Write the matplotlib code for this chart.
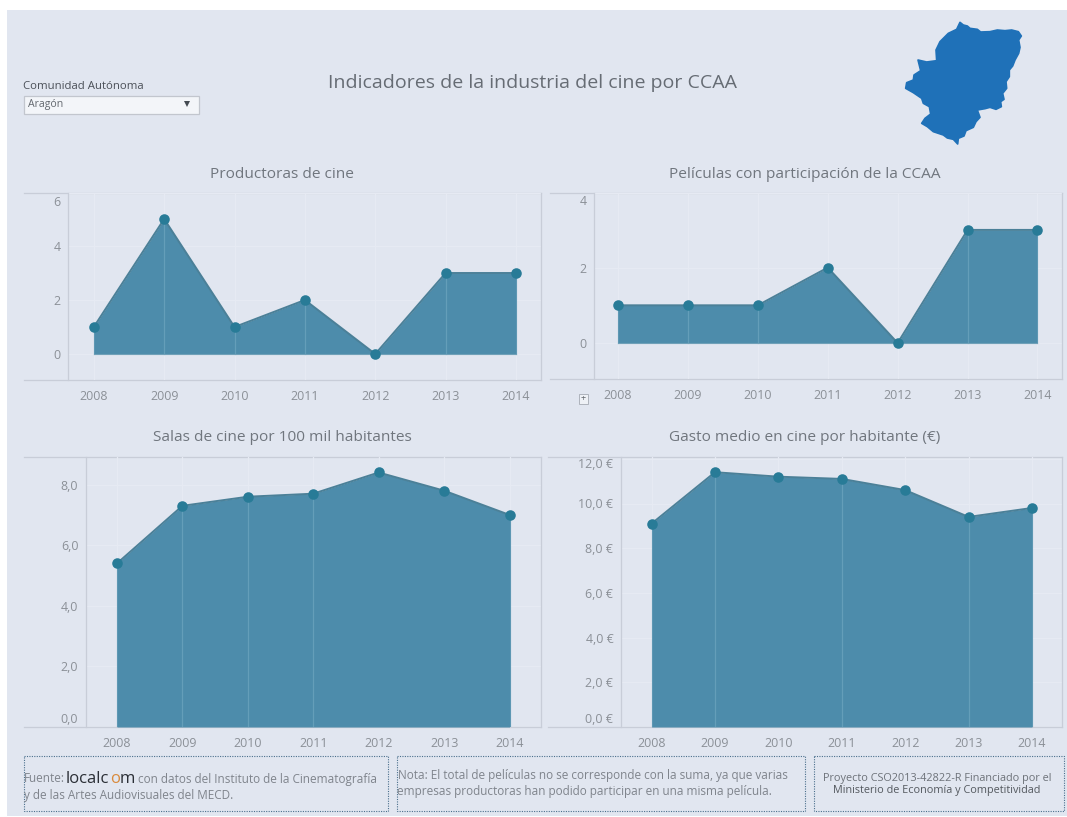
#!/usr/bin/env python
# -*- coding: UTF-8 -*-
import numpy as np
import matplotlib
matplotlib.use("Agg")
import matplotlib.pyplot as plt
from matplotlib.patches import Polygon, Rectangle
from matplotlib.transforms import ScaledTranslation

years = [2008, 2009, 2010, 2011, 2012, 2013, 2014]
productoras = [1, 5, 1, 2, 0, 3, 3]
peliculas = [1, 1, 1, 2, 0, 3, 3]
salas = [5.4, 7.3, 7.6, 7.7, 8.4, 7.8, 7.0]
gasto = [9.1, 11.4, 11.2, 11.1, 10.6, 9.4, 9.8]

productoras_ticks = [0, 2, 4, 6]
peliculas_ticks = [0, 2, 4]
salas_ticks = [0, 2, 4, 6, 8]
gasto_ticks = [0, 2, 4, 6, 8, 10, 12]

# outline of Aragón, in pixels of the zoomed map
map_outline = [(210, 37), (220, 45), (232, 48), (240, 55), (262, 58), (272, 66), (300, 65), (322, 60),
               (345, 62), (365, 60), (385, 65), (394, 78), (386, 90), (390, 112), (386, 130), (375, 150),
               (368, 168), (358, 180), (358, 200), (348, 215), (350, 235), (338, 250), (342, 268),
               (332, 275), (334, 290), (318, 298), (300, 292), (285, 296), (262, 300), (270, 322),
               (258, 335), (250, 352), (228, 362), (222, 378), (205, 385), (203, 402), (190, 388),
               (172, 384), (160, 375), (130, 365), (112, 350), (95, 340), (105, 325), (122, 312),
               (118, 290), (100, 280), (95, 265), (70, 248), (47, 235), (50, 218), (70, 210), (72, 195),
               (92, 182), (84, 150), (110, 156), (140, 152), (138, 120), (150, 95), (175, 70), (200, 58)]

W, H = 1067, 817
BG = "#e1e6f0"
AREA = "#4d8cab"
EDGE = "#4b8098"
DOT = "#287b97"
GRID = "#e6eaf3"
AXIS = "#c8cdd8"
TEXT = "#8b9097"
TITLE = "#70767e"
FONT = "Open Sans"

plt.rcParams["font.family"] = [FONT, "DejaVu Sans"]

fig = plt.figure(figsize=(W / 100, H / 100), dpi=100, facecolor="white")

# full figure layer, in pixel coordinates
page = fig.add_axes([0, 0, 1, 1], zorder=0)
page.set_xlim(0, W)
page.set_ylim(H, 0)
page.axis("off")
page.add_patch(Rectangle((7, 10), W - 7, H - 11, color=BG, lw=0))


def draw_panel(values, ticks, labels, title, title_x, title_y, box, x_anchor, y_anchor, inner, tick_shift):
    """
    Draw one area chart.
    :param box: (left, top, right, bottom) of the frame, in pixels; left is the y axis line
    :param x_anchor: pixel positions of the first and last year
    :param y_anchor: pixel of value 0 and pixels per unit
    :param inner: years that show a light line through the area
    :param tick_shift: {tick index: pixel shift} for the labels moved inside the frame
    """
    left, top, right, bottom, frame_left = box
    ax = fig.add_axes([left / W, 1 - bottom / H, (right - left) / W, (bottom - top) / H], zorder=2)
    ax.patch.set_alpha(0)

    per_year = (x_anchor[1] - x_anchor[0]) / (years[-1] - years[0])
    ax.set_xlim(years[0] - (x_anchor[0] - left) / per_year, years[0] + (right - x_anchor[0]) / per_year)
    y0, per_unit = y_anchor
    y_max = (y0 - top) / per_unit
    y_min = (y0 - bottom) / per_unit
    ax.set_ylim(y_min, y_max)

    ax.set_axisbelow(True)
    ax.grid(color=GRID, lw=0.9)
    ax.set_xticks(years)
    ax.set_xticklabels(years)
    ax.set_yticks([min(t, y_max) for t in ticks])
    ax.set_yticklabels(labels)
    ax.tick_params(length=0, labelsize=8.9, labelcolor=TEXT)
    ax.tick_params(axis="x", pad=7)
    ax.tick_params(axis="y", pad=5.5)
    for idx, shift in tick_shift.items():
        lab = ax.get_yticklabels()[idx]
        lab.set_transform(lab.get_transform() + ScaledTranslation(0, -shift / 100, fig.dpi_scale_trans))

    ax.fill_between(years, values, 0, color=AREA, lw=0, zorder=2)
    for year, value in zip(years, values):
        if year in inner:
            ax.plot([year, year], [0, value], color="#6ea6c0", lw=0.9, alpha=0.7, zorder=3)
    ax.plot(years, values, color=EDGE, lw=1.4, zorder=4)
    ax.plot([years[0], years[0]], [0, values[0]], color="#5d97b3", lw=0.8, zorder=3)
    ax.plot([years[-1], years[-1]], [0, values[-1]], color="#5d97b3", lw=0.8, zorder=3)
    ax.plot(years, np.zeros(len(years)), color="#6fa0b8", lw=0.8, zorder=3)
    ax.plot(years, values, "o", color=DOT, ms=7.6, mew=0, zorder=5, clip_on=False)

    for side in ["top", "bottom"]:
        ax.spines[side].set_visible(False)
    ax.spines["left"].set_color(AXIS)
    ax.spines["right"].set_color(AXIS)
    ax.spines["left"].set_linewidth(0.9)
    ax.spines["right"].set_linewidth(0.9)

    page.plot([frame_left, right], [top, top], color=AXIS, lw=0.9)
    page.plot([frame_left, right], [bottom, bottom], color=AXIS, lw=0.9)
    page.text(title_x, title_y, title, ha="center", va="center", fontsize=11.1, color=TITLE)
    return ax


draw_panel(productoras, productoras_ticks, ["0", "2", "4", "6"], "Productoras de cine", 282, 174,
           (68, 193, 541, 380, 24), (93.8, 516), (354, 27), [2009, 2010, 2011, 2013], {3: 8})
draw_panel(peliculas, peliculas_ticks, ["0", "2", "4"], "Películas con participación de la CCAA", 805, 174,
           (594, 193, 1062, 379, 550), (618, 1037.5), (343, 37.7), [2009, 2010, 2013], {2: 7})
draw_panel(salas, salas_ticks, ["0,0", "2,0", "4,0", "6,0", "8,0"], "Salas de cine por 100 mil habitantes", 282, 437,
           (86, 457, 541, 727, 24), (117, 509.5), (727, 30.3), [2009, 2010, 2011], {0: -9})
draw_panel(gasto, gasto_ticks, ["0,0 €", "2,0 €", "4,0 €", "6,0 €", "8,0 €", "10,0 €", "12,0 €"],
           "Gasto medio en cine por habitante (€)", 805, 437,
           (621, 457, 1062, 727, 548), (651.6, 1032), (727, 22.35), [2009, 2011, 2013], {0: -9, 6: 4})

# header
page.text(532, 83, "Indicadores de la industria del cine por CCAA", ha="center", va="center",
          fontsize=14, color="#666c74")
page.text(23, 86, "Comunidad Autónoma", ha="left", va="center", fontsize=8.2, color="#4b5058")
page.add_patch(Rectangle((24, 95.5), 175, 18, facecolor="#f3f5f9", edgecolor="#c2c6ce", lw=0.9))
page.text(28, 104, "Aragón", ha="left", va="center", fontsize=7.6, color="#62676e")
page.plot([187], [104], "v", color="#444a52", ms=4, mew=0)

# map of the selected community
outline = np.array(map_outline, dtype=float) / 3 + np.array([890, 10])
page.add_patch(Polygon(outline, closed=True, facecolor="#1f71b8", edgecolor="#1f71b8", lw=1.2,
                       joinstyle="round", zorder=1))

# small control next to the second chart
page.add_patch(Rectangle((578.5, 394), 9, 9.5, facecolor="#eef1f6", edgecolor="#aeb3bc", lw=0.7))
page.text(583, 398.8, "+", ha="center", va="center", fontsize=6.5, color="#62676e")

# footer
for x0, x1 in [(23.5, 388), (397, 804.5), (814, 1063.5)]:
    page.add_patch(Rectangle((x0, 756), x1 - x0, 54.5, fill=False, edgecolor="#4a6f8c", lw=0.8, ls=(0, (1, 1.2))))

foot = dict(va="center", fontsize=8.45, color="#7f848c")
page.text(24, 779, "Fuente:", ha="left", **foot)

# the logo has one orange letter, so each piece starts where the last one ended
logo_x = 66
renderer = fig.canvas.get_renderer()
for piece, piece_color in [("localc", "#2b2f36"), ("o", "#d98a3c"), ("m", "#2b2f36")]:
    piece_text = page.text(logo_x, 783, piece, ha="left", va="baseline", fontsize=12, color=piece_color)
    logo_x = logo_x + piece_text.get_window_extent(renderer).width + 0.3

page.text(138, 779, "con datos del Instituto de la Cinematografía", ha="left", **foot)
page.text(24, 795, "y de las Artes Audiovisuales del MECD.", ha="left", **foot)
page.text(398, 776, "Nota: El total de películas no se corresponde con la suma, ya que varias", ha="left", **foot)
page.text(397, 791, "empresas productoras han podido participar en una misma película.", ha="left", **foot)
page.text(937, 778, "Proyecto CSO2013-42822-R Financiado por el", ha="center", va="center",
          fontsize=7.8, color="#6d7279")
page.text(937, 791, "Ministerio de Economía y Competitividad", ha="center", va="center",
          fontsize=7.8, color="#54595f")

fig.savefig("out.png", dpi=100, facecolor=fig.get_facecolor())
